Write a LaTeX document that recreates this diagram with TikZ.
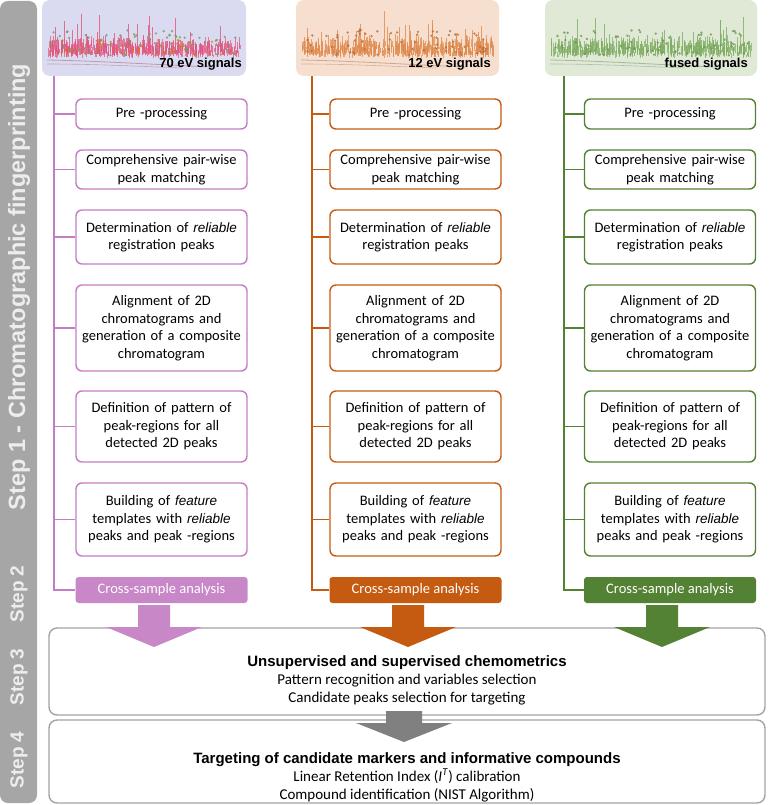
\documentclass[tikz,border=0pt]{standalone}
\usepackage{fontspec}
\setmainfont{Carlito}
\newfontfamily\arial{Liberation Sans}
\definecolor{pk}{HTML}{C27DC6}
\definecolor{pkfill}{HTML}{C888C8}
\definecolor{orc}{HTML}{C55A11}
\definecolor{grc}{HTML}{548235}
\definecolor{barc}{HTML}{A6A6A6}
\definecolor{glinec}{HTML}{A3A3A3}
\definecolor{garrowc}{HTML}{808080}
\definecolor{pkbg}{HTML}{DADBF0}
\definecolor{orbg}{HTML}{F7DFCF}
\definecolor{grbg}{HTML}{DFE9D6}
\definecolor{pkspike}{HTML}{E2557F}
\definecolor{orspike}{HTML}{E08A4E}
\definecolor{grspike}{HTML}{80AE64}
\newcommand\drawchrom[6]{%
  \begin{scope}
    \fill[#3] (#1,0) [rounded corners=8pt] rectangle (#2,76);
    \clip[rounded corners=8pt] (#1,0) rectangle (#2,76);
    \pgfmathsetseed{#5}
    \foreach \i in {1,...,150} {\draw[#4, line width=0.7pt, opacity=0.8] ({#1+8+rnd*(#2-#1-16)}, {52+rnd*4}) -- ++(0,{-4-54*rnd*rnd*rnd});}
    \foreach \i in {1,...,420} {\draw[#4, line width=0.6pt, opacity=0.7] ({#1+6+rnd*(#2-#1-12)}, {46+rnd*12}) -- ++(0,{-2-rnd*10});}
    \foreach \i in {1,...,70} {\fill[#6, opacity=0.8] ({#1+8+rnd*(#2-#1-16)}, {30+rnd*26}) circle (1.3pt);}
    \draw[#4!50!gray, line width=0.8pt, opacity=0.6] (#1+5,60) .. controls (#1+60,61) and (#1+120,65) .. (#1+170,67);
    \draw[#4!50!gray, line width=0.6pt, opacity=0.5] (#1+5,64) .. controls (#1+50,64) and (#1+90,66) .. (#1+140,68);
  \end{scope}}
\tikzset{
  stepbox/.style={draw, line width=1.4pt, rounded corners=6pt, fill=white, text width=171pt, minimum width=171pt, align=center, inner sep=0pt, font=\fontsize{14.5}{17.5}\selectfont},
  csbox/.style={fill, rounded corners=3pt, text=white, minimum width=172pt, minimum height=26pt, inner sep=0pt, font=\fontsize{14.5}{16}\selectfont},
  conn/.style={line width=1.4pt},
  steplabel/.style={rotate=90, text=white!93!black, font=\arial\bfseries\fontsize{19}{19}\selectfont},
  imglabel/.style={anchor=base east, inner sep=0pt, font=\arial\bfseries\fontsize{13}{13}\selectfont},
  bigbox/.style={draw=glinec, line width=1.4pt, rounded corners=8pt, fill=white, minimum width=716pt, inner sep=0pt},
  bottomtext/.style={align=center, font=\fontsize{15}{18}\selectfont},
  blockarrow/.pic={\fill[pic actions] (-16,0) -- (16,0) -- (16,22) -- (48,22) -- (0,42) -- (-48,22) -- (-16,22) -- cycle;},
  grayarrow/.pic={\fill[pic actions] (-18,0) -- (18,0) -- (18,12) -- (48,12) -- (0,31) -- (-48,12) -- (-18,12) -- cycle;}
}
\begin{document}
\begin{tikzpicture}[x=1pt,y=-1pt]
\useasboundingbox (0,0) rectangle (768,805);
% left bar
\fill[barc, rounded corners=8pt] (0,1) rectangle (37,803);
\node[steplabel, font=\arial\bfseries\fontsize{23.5}{23.5}\selectfont] (s1) at (19,287) {Step 1 - Chromatographic fingerprinting};
\node[steplabel] (s2) at (19,594) {Step 2};
\node[steplabel] (s3) at (19,677) {Step 3};
\node[steplabel] (s4) at (19,760) {Step 4};
% chromatogram images
\drawchrom{42}{246}{pkbg}{pkspike}{11}{grc!80!white}
\begin{scope}
  \pgfmathsetseed{5}
  \foreach \i in {1,...,50} {\fill[orc!80!yellow, opacity=0.8] ({52+rnd*185}, {40+rnd*16}) circle (1.2pt);}
\end{scope}
\drawchrom{296}{499}{orbg}{orspike}{23}{orspike!80!black}
\drawchrom{545}{757}{grbg}{grspike}{37}{grspike!85!black}
\node[imglabel] (l1) at (242,68) {70 eV signals};
\node[imglabel] (l2) at (491,68) {12 eV signals};
\node[imglabel] (l3) at (748,68) {fused signals};
% columns
\foreach \c/\cx/\lx/\col/\fc in {p/161.5/54/pk/pkfill, o/415.5/312/orc/orc, g/670/564/grc/grc} {
  \coordinate (\c top) at (\lx,76);
  \node[stepbox, draw=\col, minimum height=30pt] (\c1) at (\cx,114) {Pre -processing};
  \node[stepbox, draw=\col, minimum height=39pt] (\c2) at (\cx,169.5) {Comprehensive pair-wise\\peak matching};
  \node[stepbox, draw=\col, minimum height=54pt] (\c3) at (\cx,237) {Determination of {\arial\itshape\fontsize{13.5}{17.5}\selectfont reliable}\\registration peaks};
  \node[stepbox, draw=\col, minimum height=86pt] (\c4) at (\cx,328) {Alignment of 2D\\chromatograms and\\generation of a composite\\chromatogram};
  \node[stepbox, draw=\col, minimum height=71pt] (\c5) at (\cx,426.5) {Definition of pattern of\\peak-regions for all\\detected 2D peaks};
  \node[stepbox, draw=\col, minimum height=73pt] (\c6) at (\cx,519.5) {Building of {\arial\itshape\fontsize{13.5}{17.5}\selectfont feature}\\templates with {\arial\itshape\fontsize{13.5}{17.5}\selectfont reliable}\\peaks and peak -regions};
  \node[csbox, fill=\fc] (\c cs) at (\cx,590) {Cross-sample analysis};
  \draw[conn, draw=\col] (\c top) |- (\c cs.west);
  \foreach \k in {1,...,6} {\draw[conn, draw=\col] (\c top |- \c\k.west) -- (\c\k.west);}
}
% bottom boxes
\node[bigbox, minimum height=87pt] (b3) at (407,671.5) {};
\node[bigbox, minimum height=83pt] (b4) at (407,761.5) {};
\node[bottomtext] (t3) at (407,680) {{\arial\bfseries\fontsize{15}{18}\selectfont Unsupervised and supervised chemometrics}\\Pattern recognition and variables selection\\Candidate peaks selection for targeting};
\node[bottomtext] (t4) at (407,777) {{\arial\bfseries\fontsize{15}{18}\selectfont Targeting of candidate markers and informative compounds}\\Linear Retention Index (\textit{I}\textsuperscript{\textit{T}}) calibration\\Compound identification (NIST Algorithm)};
% arrows
\pic[fill=pkfill] at (154,605) {blockarrow};
\pic[fill=orc] at (408,605) {blockarrow};
\pic[fill=grc] at (662,605) {blockarrow};
\pic[fill=garrowc] at (404,711) {grayarrow};
\end{tikzpicture}
\end{document}
